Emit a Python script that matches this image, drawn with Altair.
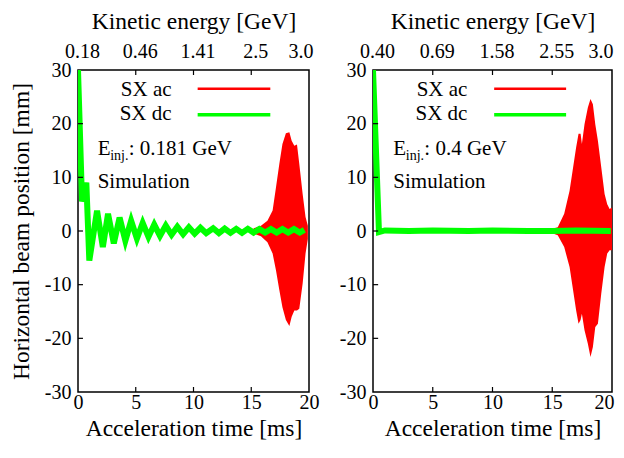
import altair as alt
import pandas as pd

FONT = "Liberation Serif"

# ---- axis ticks / labels ----
TIME_TICKS = [0, 5, 10, 15, 20]
POS_TICKS = [-30, -20, -10, 0, 10, 20, 30]
INNER_TIME_TICKS = [5, 10, 15]
INNER_POS_TICKS = [-20, -10, 0, 10, 20]
L_TOP_LABELS = ["0.18", "0.46", "1.41", "2.5", "3.0"]
R_TOP_LABELS = ["0.40", "0.69", "1.58", "2.55", "3.0"]

# ---- left panel: E_inj = 0.181 GeV ----
L_DC_T = [0.0, 0.35, 0.72, 0.98, 1.65, 2.15, 2.6, 3.1, 3.6, 4.1, 4.6, 5.1, 5.6, 6.1, 6.6,
          7.1, 7.6, 8.1, 8.6, 9.1, 9.6, 10.1, 10.6, 11.1, 11.7, 12.2, 12.7, 13.2, 13.7,
          14.2, 14.7, 15.2, 15.7, 16.2, 16.7, 17.2, 17.7, 18.2, 18.7, 19.2, 19.6]
L_DC_Y = [30.0, 5.5, 9.0, -5.5, 3.8, -3.0, 3.2, -2.3, 2.5, -1.8, 1.9, -1.4, 1.5, -1.1, 1.2,
          -0.9, 1.0, -0.7, 0.8, -0.6, 0.7, -0.5, 0.6, -0.4, 0.5, -0.4, 0.45, -0.35, 0.4,
          -0.35, 0.4, -0.3, 0.35, -0.3, 0.35, -0.3, 0.35, -0.3, 0.35, -0.3, 0.2]
L_AC_T = [15.2, 15.84, 16.4, 16.85, 17.14, 17.43, 17.7, 18.0, 18.3, 18.5, 18.73, 18.96,
          19.16, 19.45, 19.7, 19.9]
L_AC_HI = [0.5, 1.0, 1.9, 3.8, 8.1, 12.5, 16.2, 18.2, 18.4, 16.8, 15.9, 16.1, 12.5, 6.9, 2.6, 1.0]
L_AC_LO = [-0.5, -1.0, -2.1, -4.2, -7.3, -11.0, -14.2, -16.6, -17.7, -16.0, -14.8, -14.8,
           -14.5, -9.8, -4.2, -1.5]

# ---- right panel: E_inj = 0.4 GeV ----
R_DC_T = [0.0, 0.5, 1.0, 3.0, 5.0, 8.0, 10.0, 13.0, 15.0, 17.0, 19.9]
R_DC_Y = [30.0, -0.2, 0.1, 0.0, 0.1, 0.0, 0.1, 0.0, 0.0, 0.1, 0.0]
R_AC_T = [15.0, 15.46, 16.0, 16.45, 16.7, 17.0, 17.2, 17.37, 17.48, 17.7, 17.98, 18.2, 18.4,
          18.6, 18.82, 19.1, 19.38, 19.6, 19.8, 20.0]
R_AC_HI = [0.4, 0.7, 3.2, 7.5, 11.2, 15.6, 18.1, 18.1, 16.2, 19.9, 23.0, 24.6, 23.6, 19.9,
           16.8, 11.9, 6.9, 5.0, 4.1, 4.4]
R_AC_LO = [-0.4, -0.8, -3.0, -6.7, -10.4, -14.8, -17.3, -16.6, -15.4, -18.5, -21.0, -23.5,
           -21.6, -17.9, -17.3, -11.7, -6.7, -4.2, -3.6, -3.6]

LEGEND_LABELS = ["SX ac", "SX dc"]
LEGEND_Y = [26.5, 21.65]
LEGEND_TEXT_Y = [25.1, 20.7]


def cond(test, yes, no):
    return {"condition": {"test": test, "value": yes}, "value": no}


def panel(dc_t, dc_y, ac_t, ac_hi, ac_lo, top_labels, einj, width,
          leg_text_t, leg_t0, leg_t1, y_title, is_right):
    xs = alt.Scale(domain=[0, 20], nice=False, zero=False)
    ys = alt.Scale(domain=[-30, 30], nice=False, zero=False)
    expr = "".join(f"datum.value == {v} ? '{l}' : " for v, l in zip(TIME_TICKS, top_labels)) + "''"

    ykw = dict(values=POS_TICKS, labelPadding=7, labelFlush=False, labelExpr="'' + datum.value")
    if y_title:
        yaxis = alt.Axis(title=y_title, titlePadding=11, **ykw)
    else:
        yaxis = alt.Axis(title=None, **ykw)

    if is_right:
        bot_axis = alt.Axis(orient="bottom", title="Acceleration time [ms]", values=TIME_TICKS,
                            labelPadding=0, titlePadding=4.5, labelFlush=False,
                            labelAlign=cond("datum.value == 20", "right", "center"),
                            labelOffset=cond("datum.value == 20", 2, 0))
        top_off = cond("datum.value == 20", 1, 4)
    else:
        bot_axis = alt.Axis(orient="bottom", title="Acceleration time [ms]", values=TIME_TICKS,
                            labelPadding=0, titlePadding=4.5, labelFlush=False)
        top_off = 4

    ac = pd.DataFrame({"t": ac_t, "hi": ac_hi, "lo": ac_lo})
    dc = pd.DataFrame({"t": dc_t, "y": dc_y})

    area = alt.Chart(ac).mark_area(color="#ff0000", clip=True).encode(
        x=alt.X("t:Q", scale=xs, axis=bot_axis),
        y=alt.Y("hi:Q", scale=ys, axis=yaxis),
        y2="lo:Q",
    )
    line = alt.Chart(dc).mark_line(color="#00ff00", strokeWidth=6, clip=True).encode(
        x=alt.X("t:Q", scale=xs, axis=None),
        y=alt.Y("y:Q", scale=ys, axis=None),
    )
    top_df = pd.DataFrame({"t": INNER_TIME_TICKS, "a": [30] * 3, "b": [29.07] * 3})
    top_ticks = alt.Chart(top_df).mark_rule(color="black", strokeWidth=1.2).encode(
        x=alt.X("t:Q", scale=xs, axis=alt.Axis(
            orient="top", title="Kinetic energy [GeV]", values=TIME_TICKS, labelExpr=expr,
            labelPadding=8.5, titlePadding=8.5, labelFlush=False,
            labelAlign=cond("datum.value == 20", "right", "center"),
            labelOffset=top_off)),
        y=alt.Y("a:Q", scale=ys, axis=None),
        y2="b:Q",
    )
    bot_df = pd.DataFrame({"t": INNER_TIME_TICKS, "a": [-30] * 3, "b": [-29.07] * 3})
    bot_ticks = alt.Chart(bot_df).mark_rule(color="black", strokeWidth=1.2).encode(
        x=alt.X("t:Q", scale=xs, axis=None),
        y=alt.Y("a:Q", scale=ys, axis=None),
        y2="b:Q",
    )
    left_df = pd.DataFrame({"p": INNER_POS_TICKS, "a": [0] * 5, "b": [0.43] * 5})
    left_ticks = alt.Chart(left_df).mark_rule(color="black", strokeWidth=1.2).encode(
        y=alt.Y("p:Q", scale=ys, axis=None),
        x=alt.X("a:Q", scale=xs, axis=None),
        x2="b:Q",
    )
    leg_df = pd.DataFrame({"label": LEGEND_LABELS, "y": LEGEND_TEXT_Y, "t": [leg_text_t] * 2})
    leg_text = alt.Chart(leg_df).mark_text(align="right", baseline="alphabetic", font=FONT,
                                           fontSize=21, color="black").encode(
        x=alt.X("t:Q", scale=xs, axis=None),
        y=alt.Y("y:Q", scale=ys, axis=None),
        text="label:N",
    )
    red_df = pd.DataFrame({"t0": [leg_t0], "t1": [leg_t1], "y": [LEGEND_Y[0]]})
    green_df = pd.DataFrame({"t0": [leg_t0], "t1": [leg_t1], "y": [LEGEND_Y[1]]})
    red_leg = alt.Chart(red_df).mark_rule(color="#ff0000", strokeWidth=2.5).encode(
        x=alt.X("t0:Q", scale=xs, axis=None), x2="t1:Q", y=alt.Y("y:Q", scale=ys, axis=None))
    green_leg = alt.Chart(green_df).mark_rule(color="#00ff00", strokeWidth=3.5).encode(
        x=alt.X("t0:Q", scale=xs, axis=None), x2="t1:Q", y=alt.Y("y:Q", scale=ys, axis=None))

    ann_df = pd.DataFrame({"t": [1.7], "y": [14.25], "y2": [8.0]})
    base = alt.Chart(ann_df)
    enc = dict(x=alt.X("t:Q", scale=xs, axis=None), y=alt.Y("y:Q", scale=ys, axis=None))
    e_txt = base.mark_text(align="left", baseline="alphabetic", font=FONT, fontSize=21,
                           text="E").encode(**enc)
    sub_txt = base.mark_text(align="left", baseline="alphabetic", font=FONT, fontSize=14,
                             text="inj.", dx=12.5, dy=5).encode(**enc)
    rest_txt = base.mark_text(align="left", baseline="alphabetic", font=FONT, fontSize=21,
                              text=f": {einj} GeV", dx=31).encode(**enc)
    sim_txt = base.mark_text(align="left", baseline="alphabetic", font=FONT, fontSize=21,
                             text="Simulation").encode(
        x=alt.X("t:Q", scale=xs, axis=None), y=alt.Y("y2:Q", scale=ys, axis=None))

    return alt.layer(area, line, top_ticks, bot_ticks, left_ticks, red_leg, green_leg,
                     leg_text, e_txt, sub_txt, rest_txt, sim_txt).resolve_axis(
        x="independent", y="independent").properties(width=width, height=322)


left = panel(L_DC_T, L_DC_Y, L_AC_T, L_AC_HI, L_AC_LO, L_TOP_LABELS, "0.181", 231,
             8.1, 10.36, 16.65, "Horizontal beam position [mm]", False)
right = panel(R_DC_T, R_DC_Y, R_AC_T, R_AC_HI, R_AC_LO, R_TOP_LABELS, "0.4", 239,
              7.9, 10.14, 16.16, None, True)

chart = alt.hconcat(left, right, spacing=18).properties(
    padding={"left": 0, "top": 0, "right": 0, "bottom": 0}
).configure_view(stroke="black", strokeWidth=1.5).configure_axis(
    domain=False, ticks=False, grid=False,
    labelFont=FONT, labelFontSize=20, labelColor="black",
    titleFont=FONT, titleFontSize=23.5, titleFontWeight="normal", titleColor="black",
)

chart.save("out.html", embed_options={"renderer": "svg", "actions": False})
